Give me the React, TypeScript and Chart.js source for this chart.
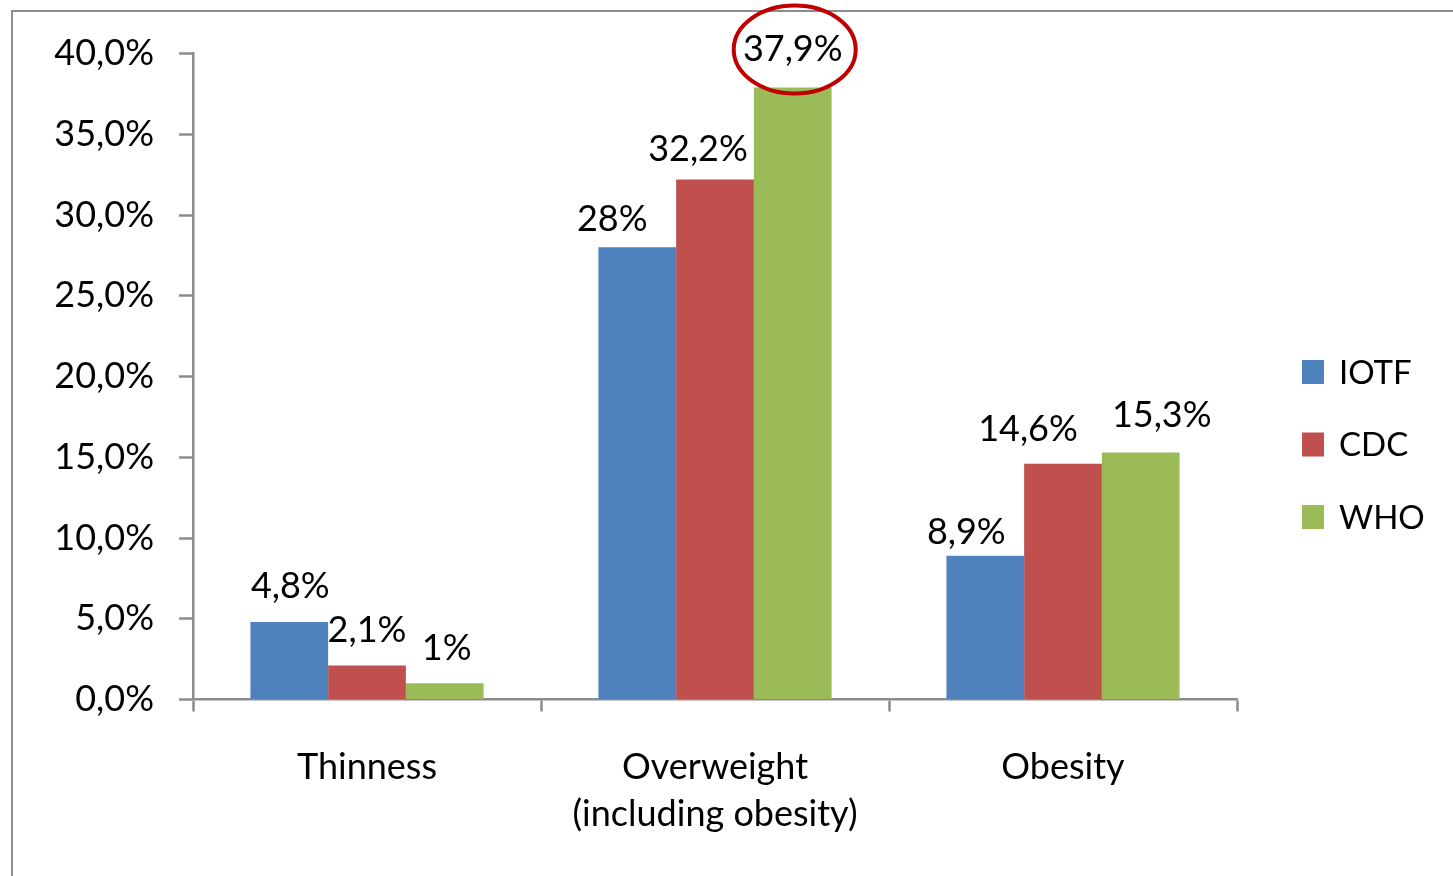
import React, { useEffect, useRef } from 'react';
import { Chart, registerables } from 'chart.js';

Chart.register(...registerables);

// ---- data ----
const CATEGORIES: string[][] = [['Thinness'], ['Overweight', '(including obesity)'], ['Obesity']];
const SERIES_NAMES: string[] = ['IOTF', 'CDC', 'WHO'];
const IOTF: number[] = [4.8, 28, 8.9];
const CDC: number[] = [2.1, 32.2, 14.6];
const WHO: number[] = [1, 37.9, 15.3];
const Y_MIN = 0;
const Y_MAX = 40;
const Y_STEP = 5;

// ---- styling ----
const COLORS = ['#4F81BD', '#C0504D', '#9BBB59'];
const FONT_FAMILY = 'Lato, "Noto Sans", sans-serif';
const FONT_SIZE = 36;
const LEGEND_FONT_SIZE = 33;
const AXIS_COLOR = '#8c8c8c';
// manual label nudges (dx, dy from bar top to text cap-centre), per series / category
const LABEL_OFFSETS: number[][][] = [
  [[1, -37], [-25, -29.5], [-19, -24.5]],
  [[0, -37], [-17, -31], [-35, -35.6]],
  [[2, -36], [0, -39], [21, -38]],
];
const HIGHLIGHT = { dataset: 2, index: 1 };

const fmtValue = (v: number) => String(v).replace('.', ',') + '%';
const fmtTick = (v: number) => v.toFixed(1).replace('.', ',') + '%';

const framePlugin = {
  id: 'frame',
  beforeDraw(chart: any) {
    const ctx = chart.ctx;
    ctx.save();
    ctx.strokeStyle = AXIS_COLOR;
    ctx.lineWidth = 2;
    ctx.beginPath();
    ctx.moveTo(12, chart.height);
    ctx.lineTo(12, 11);
    ctx.lineTo(chart.width, 11);
    ctx.stroke();
    ctx.restore();
  },
};

const labelPlugin = {
  id: 'barLabels',
  afterDatasetsDraw(chart: any) {
    const ctx = chart.ctx;
    ctx.save();
    ctx.font = `${FONT_SIZE}px ${FONT_FAMILY}`;
    ctx.fillStyle = '#000';
    ctx.textAlign = 'center';
    ctx.textBaseline = 'alphabetic';
    const capHalf = FONT_SIZE * 0.36;
    chart.data.datasets.forEach((ds: any, di: number) => {
      const meta = chart.getDatasetMeta(di);
      meta.data.forEach((el: any, i: number) => {
        const [dx, dy] = LABEL_OFFSETS[di][i];
        const cx = el.x + dx;
        const cy = el.y + dy;
        ctx.fillText(fmtValue(ds.data[i]), cx, cy + capHalf);
        if (di === HIGHLIGHT.dataset && i === HIGHLIGHT.index) {
          ctx.save();
          ctx.strokeStyle = '#C00000';
          ctx.lineWidth = 4;
          ctx.beginPath();
          ctx.ellipse(cx + 2, cy + 1, 61, 44, 0, 0, Math.PI * 2);
          ctx.stroke();
          ctx.restore();
        }
      });
    });
    ctx.restore();
  },
};

const legendPlugin = {
  id: 'sideLegend',
  afterDraw(chart: any) {
    const ctx = chart.ctx;
    ctx.save();
    ctx.font = `${LEGEND_FONT_SIZE}px ${FONT_FAMILY}`;
    ctx.textAlign = 'left';
    ctx.textBaseline = 'alphabetic';
    const x0 = chart.chartArea.right + 65;
    const y0 = 372;
    chart.data.datasets.forEach((ds: any, i: number) => {
      const cy = y0 + i * 72.5;
      ctx.fillStyle = ds.backgroundColor;
      ctx.fillRect(x0, cy - 12, 22, 24);
      ctx.fillStyle = '#000';
      ctx.fillText(ds.label, x0 + 37, cy + LEGEND_FONT_SIZE * 0.36);
    });
    ctx.restore();
  },
};

export default function App() {
  const ref = useRef<HTMLCanvasElement | null>(null);
  useEffect(() => {
    if (!ref.current) return;
    const series = [IOTF, CDC, WHO];
    const chart = new Chart(ref.current, {
      type: 'bar',
      data: {
        labels: CATEGORIES,
        datasets: series.map((d, i) => ({
          label: SERIES_NAMES[i],
          data: d,
          backgroundColor: COLORS[i],
          borderWidth: 0,
          barPercentage: 1,
          categoryPercentage: 0.67,
        })),
      },
      options: {
        animation: false,
        responsive: true,
        maintainAspectRatio: false,
        devicePixelRatio: 1,
        layout: { padding: { top: 53.5, right: 216, bottom: 0, left: 0 } },
        plugins: { legend: { display: false }, tooltip: { enabled: false } },
        scales: {
          x: {
            grid: {
              display: true,
              drawOnChartArea: false,
              drawTicks: true,
              tickLength: 12,
              tickWidth: 2.5,
              tickColor: AXIS_COLOR,
              offset: true,
            },
            border: { display: true, color: AXIS_COLOR, width: 2.5 },
            ticks: {
              color: '#000',
              font: { family: FONT_FAMILY, size: FONT_SIZE, lineHeight: 47 / FONT_SIZE },
              padding: 32,
              maxRotation: 0,
              autoSkip: false,
            },
            afterFit: (s: any) => {
              s.height = 176.5;
            },
          },
          y: {
            min: Y_MIN,
            max: Y_MAX,
            grid: {
              display: true,
              drawOnChartArea: false,
              drawTicks: true,
              tickLength: 14,
              tickWidth: 2.5,
              tickColor: AXIS_COLOR,
            },
            border: { display: true, color: AXIS_COLOR, width: 2.5 },
            ticks: {
              stepSize: Y_STEP,
              color: '#000',
              font: { family: FONT_FAMILY, size: FONT_SIZE },
              padding: 25,
              callback: (v: any) => fmtTick(Number(v)),
            },
            afterFit: (s: any) => {
              s.width = 193;
            },
          },
        },
      },
      plugins: [framePlugin, labelPlugin, legendPlugin],
    });
    return () => chart.destroy();
  }, []);
  return (
    <div style={{ position: 'fixed', left: 0, top: 0, width: 1453, height: 876, background: '#fff' }}>
      <canvas ref={ref} />
    </div>
  );
}
